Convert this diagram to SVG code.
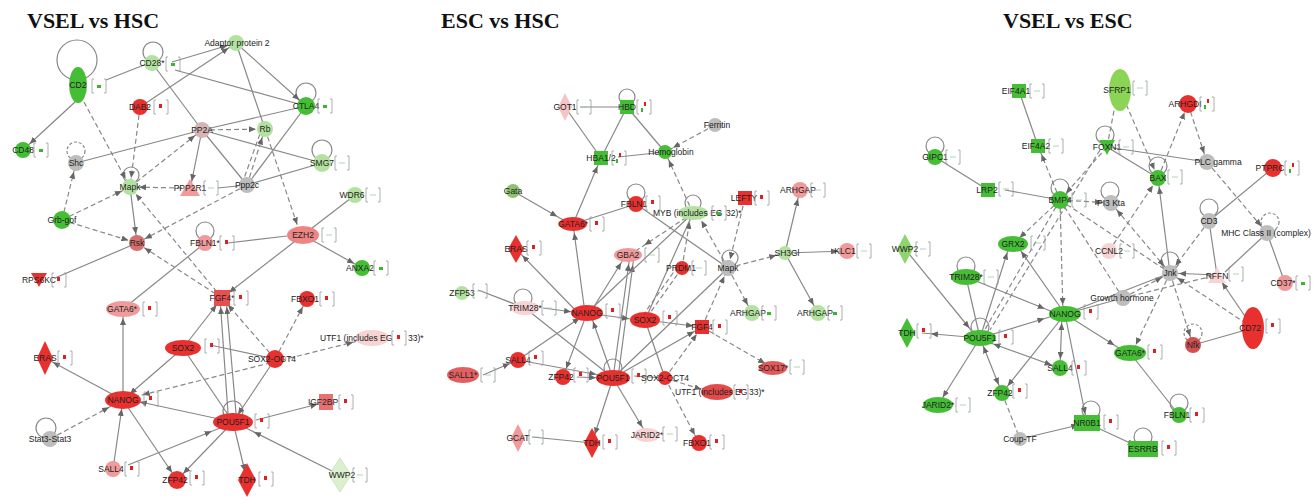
<svg xmlns="http://www.w3.org/2000/svg" xmlns:xlink="http://www.w3.org/1999/xlink" width="1315" height="500" viewBox="0 0 1315 500">
<style>
.t{font-family:"Liberation Serif","Times New Roman",serif;font-weight:bold;font-size:22px;fill:#111}
text.l{font-family:"Liberation Sans",Arial,sans-serif;font-size:8.5px;fill:#222;text-anchor:middle}
text.ls{font-family:"Liberation Sans",Arial,sans-serif;font-size:8.5px;fill:#222}
.s{stroke:#888;stroke-width:1.2;fill:none}
.d{stroke:#888;stroke-width:1.2;fill:none;stroke-dasharray:5 3}
.a{marker-end:url(#ah)}
.b{marker-start:url(#ah)}
.lp{fill:none;stroke:#888;stroke-width:1.2}
.ld{fill:none;stroke:#888;stroke-width:1.2;stroke-dasharray:3 2}
.R{fill:#e8302f}
.P{fill:#f09a9a}
.LP{fill:#f8d3d3}
.G{fill:#45be35}
.LG{fill:#b3e2a0}
.GR{fill:#bdbdbd}
.bk{fill:none;stroke:#999;stroke-width:.8}
</style>
<defs>
<marker id="ah" markerUnits="userSpaceOnUse" viewBox="0 0 7 6" markerWidth="7" markerHeight="6" refX="16" refY="3" orient="auto-start-reverse"><path d="M0,0L7,3L0,6z" fill="#666"/></marker>
<g id="bR"><path class="bk" d="M2,-7H0V7H2M12,-7H14V7H12"/><rect x="5" y="-3" width="3" height="4" fill="#e02020"/></g>
<g id="bG"><path class="bk" d="M2,-7H0V7H2M12,-7H14V7H12"/><rect x="5" y="-1" width="4" height="3" fill="#3bb52b"/></g>
<g id="bN"><path class="bk" d="M2,-7H0V7H2M12,-7H14V7H12"/><path d="M4,0H10" stroke="#9c9" stroke-width=".8"/></g>
<g id="bRG"><path class="bk" d="M2,-7H0V7H2M12,-7H14V7H12"/><rect x="7" y="-5" width="2" height="4" fill="#e02020"/><rect x="4" y="1" width="2" height="4" fill="#3bb52b"/></g>
</defs>

<text class="t" x="27" y="28">VSEL vs HSC</text>
<text class="t" x="441" y="28">ESC vs HSC</text>
<text class="t" x="1003" y="28">VSEL vs ESC</text>

<g id="connectors">
<!-- panel 1 -->
<circle class="lp" cx="77" cy="60" r="20"/>
<circle class="lp" cx="153" cy="52" r="10"/>
<circle class="ld" cx="76" cy="151" r="9"/>
<circle class="lp" cx="131" cy="175" r="8"/>
<circle class="lp" cx="205" cy="231" r="9"/>
<circle class="lp" cx="306" cy="93" r="10"/>
<circle class="lp" cx="322" cy="150" r="10"/>
<circle class="lp" cx="233" cy="411" r="10"/>
<circle class="lp" cx="46" cy="428" r="10"/>
<path class="s a" d="M75,102L23,150"/>
<path class="s" d="M106,80L144,65"/>
<path class="d a" d="M84,102L130,187"/>
<path class="s a" d="M172,62L236,43"/>
<path class="s a" d="M140,107L236,43"/>
<path class="s" d="M175,70L306,106"/>
<path class="s a" d="M236,43L306,106"/>
<path class="s" d="M152,63L202,130"/>
<path class="s" d="M236,43L265,129"/>
<path class="s" d="M202,130L306,106"/>
<path class="d a" d="M202,130L265,129"/>
<path class="s" d="M202,130L322,163"/>
<path class="s" d="M202,130L247,185"/>
<path class="s a" d="M202,130L190,190"/>
<path class="s" d="M76,163L202,130"/>
<path class="d a" d="M130,187L202,130"/>
<path class="d a" d="M140,107L130,187"/>
<path class="d a" d="M62,220L76,163"/>
<path class="d a" d="M62,220L130,187"/>
<path class="d a" d="M62,220L137,243"/>
<path class="s a" d="M130,187L137,243"/>
<path class="d a" d="M182,188L130,187"/>
<path class="s" d="M218,188L247,185"/>
<path class="d a" d="M247,185L265,129"/>
<path class="d" d="M242,184L261,131"/>
<path class="s" d="M247,185L306,106"/>
<path class="s" d="M247,185L322,163"/>
<path class="d a" d="M247,185L137,243"/>
<path class="d a" d="M222,298L130,187"/>
<path class="d a" d="M265,129L300,233"/>
<path class="s" d="M355,195L303,235"/>
<path class="s" d="M228,243L287,236"/>
<path class="s a" d="M303,235L222,298"/>
<path class="s a" d="M303,235L362,268"/>
<path class="s" d="M205,243L123,309"/>
<path class="d a" d="M222,298L137,243"/>
<path class="s" d="M55,278L137,243"/>
<path class="s a" d="M123,400L123,309"/>
<path class="s a" d="M123,400L45,358"/>
<path class="s a" d="M183,348L123,400"/>
<path class="s a" d="M183,348L222,298"/>
<path class="s a" d="M123,400L177,480"/>
<path class="s a" d="M113,469L123,400"/>
<path class="d a" d="M50,439L117,403"/>
<path class="s a" d="M128,465L220,428"/>
<path class="s a" d="M233,422L177,480"/>
<path class="s a" d="M233,422L247,480"/>
<path class="s a" d="M340,475L246,428"/>
<path class="s a" d="M256,420L326,402"/>
<path class="s a" d="M228,413L220,298"/>
<path class="s a" d="M236,413L226,298"/>
<path class="d a" d="M275,359L222,298"/>
<path class="d a" d="M275,359L307,299"/>
<path class="d a b" d="M134,397L362,340"/>
<path class="s a" d="M275,359L233,422"/>
<path class="s" d="M183,348L233,422"/>
<path class="s" d="M210,345L275,359"/>
<path class="s b" d="M131,400L233,422"/>

<!-- panel 2 -->
<circle class="lp" cx="627" cy="97" r="8"/>
<circle class="lp" cx="636" cy="193" r="9"/>
<circle class="lp" cx="693" cy="203" r="8"/>
<circle class="lp" cx="730" cy="258" r="8"/>
<circle class="lp" cx="523" cy="298" r="9"/>
<circle class="lp" cx="613" cy="368" r="9"/>
<path class="s" d="M580,107L627,107"/>
<path class="s" d="M565,107L601,158"/>
<path class="s" d="M627,107L601,158"/>
<path class="s" d="M627,107L665,152"/>
<path class="s" d="M618,157L665,152"/>
<path class="d a" d="M715,125L665,152"/>
<path class="d a" d="M693,213L665,152"/>
<path class="s a" d="M513,191L565,221"/>
<path class="s a" d="M573,224L601,158"/>
<path class="s" d="M636,204L573,224"/>
<path class="s a" d="M585,313L573,224"/>
<path class="s a" d="M580,315L516,249"/>
<path class="s a" d="M590,313L626,255"/>
<path class="s a" d="M613,378L630,255"/>
<path class="s a" d="M618,378L634,256"/>
<path class="d a" d="M693,213L637,250"/>
<path class="s" d="M693,213L645,320"/>
<path class="s" d="M693,213L587,313"/>
<path class="s" d="M636,204L728,268"/>
<path class="d a" d="M682,268L691,213"/>
<path class="d a" d="M728,268L697,213"/>
<path class="d a" d="M745,198L728,268"/>
<path class="d a" d="M728,268L785,253"/>
<path class="s a" d="M785,253L800,190"/>
<path class="s a" d="M785,253L847,251"/>
<path class="s a" d="M785,253L818,313"/>
<path class="d a" d="M728,268L752,313"/>
<path class="d a" d="M702,327L728,268"/>
<path class="d" d="M682,268L645,320"/>
<path class="d" d="M678,266L641,318"/>
<path class="d a" d="M702,327L773,368"/>
<path class="s a" d="M645,320L702,327"/>
<path class="d a" d="M665,378L702,327"/>
<path class="s a" d="M613,378L702,327"/>
<path class="d a" d="M665,378L710,392"/>
<path class="d a" d="M665,378L699,443"/>
<path class="s" d="M634,376L665,378"/>
<path class="s" d="M478,290L525,308"/>
<path class="s a" d="M543,308L580,313"/>
<path class="s" d="M525,308L613,378"/>
<path class="s a" d="M587,313L638,320"/>
<path class="s a" d="M518,360L587,313"/>
<path class="s a" d="M483,375L518,360"/>
<path class="s a" d="M518,360L605,376"/>
<path class="s a" d="M587,313L563,377"/>
<path class="s a" d="M577,377L605,378"/>
<path class="s a" d="M613,378L590,313"/>
<path class="s a" d="M613,378L592,443"/>
<path class="s a" d="M613,378L647,435"/>
<path class="s" d="M532,437L592,443"/>
<path class="s" d="M728,268L613,378"/>
<path class="s" d="M665,378L645,320"/>

<!-- panel 3 -->
<circle class="lp" cx="935" cy="146" r="9"/>
<circle class="lp" cx="1060" cy="188" r="9"/>
<circle class="lp" cx="1105" cy="135" r="9"/>
<circle class="lp" cx="1158" cy="166" r="9"/>
<circle class="lp" cx="1110" cy="191" r="9"/>
<circle class="lp" cx="1209" cy="208" r="9"/>
<circle class="ld" cx="1270" cy="222" r="9"/>
<circle class="lp" cx="1170" cy="261" r="9"/>
<circle class="ld" cx="1193" cy="333" r="9"/>
<circle class="lp" cx="1179" cy="403" r="9"/>
<circle class="lp" cx="1091" cy="410" r="9"/>
<circle class="lp" cx="1143" cy="437" r="9"/>
<circle class="lp" cx="966" cy="266" r="9"/>
<circle class="lp" cx="980" cy="327" r="9"/>
<path class="s" d="M1019,91L1038,146"/>
<path class="d a" d="M1060,200L1038,146"/>
<path class="s" d="M935,157L988,190"/>
<path class="s" d="M1005,190L1060,200"/>
<path class="d a" d="M1107,147L1060,200"/>
<path class="d a" d="M1060,200L1111,203"/>
<path class="d a" d="M1060,200L1013,244"/>
<path class="d a" d="M1060,200L1063,314"/>
<path class="d" d="M1060,200L980,338"/>
<path class="d" d="M1060,200L1170,273"/>
<path class="d" d="M1060,200L1123,298"/>
<path class="d a" d="M1107,147L1118,90"/>
<path class="d a" d="M1120,90L1158,178"/>
<path class="s" d="M1107,147L1207,162"/>
<path class="s" d="M1107,147L1158,178"/>
<path class="d" d="M1100,150L990,330"/>
<path class="d a" d="M1158,178L1188,104"/>
<path class="d a" d="M1188,104L1207,162"/>
<path class="d a" d="M1207,162L1267,233"/>
<path class="s" d="M1273,168L1209,221"/>
<path class="d a" d="M1209,221L1170,273"/>
<path class="s" d="M1209,221L1217,275"/>
<path class="s" d="M1267,233L1225,272"/>
<path class="s" d="M1267,233L1285,283"/>
<path class="s a" d="M1170,273L1158,178"/>
<path class="d a" d="M1109,251L1158,178"/>
<path class="d a b" d="M1111,203L1170,273"/>
<path class="d a" d="M1170,273L1132,353"/>
<path class="d a" d="M1170,273L1193,345"/>
<path class="s a" d="M1217,275L1170,273"/>
<path class="d a" d="M1253,328L1170,273"/>
<path class="s a" d="M1253,328L1217,275"/>
<path class="s" d="M1253,328L1193,345"/>
<path class="d a" d="M1123,298L1170,273"/>
<path class="d" d="M1123,298L1217,275"/>
<path class="s" d="M1130,353L1179,415"/>
<path class="s a" d="M1087,423L1143,449"/>
<path class="s a" d="M1020,439L1087,423"/>
<path class="d" d="M1002,393L1020,439"/>
<path class="s a" d="M1065,314L1087,423"/>
<path class="s a" d="M1065,314L1122,350"/>
<path class="s a" d="M966,277L1053,312"/>
<path class="s" d="M966,277L980,338"/>
<path class="s a" d="M905,249L975,335"/>
<path class="s a" d="M980,338L922,333"/>
<path class="s a" d="M980,338L1053,316"/>
<path class="s a" d="M980,338L938,405"/>
<path class="s a b" d="M980,338L1002,393"/>
<path class="s a b" d="M985,341L1060,368"/>
<path class="s a" d="M1065,314L1002,393"/>
<path class="s a b" d="M1062,314L1060,368"/>
<path class="s a" d="M980,338L1010,244"/>
<path class="s a" d="M1065,314L1016,244"/>
<path class="s" d="M1065,314L1123,298"/>
<path class="s" d="M1065,314L1170,273"/>
</g>

<!-- ===== panel 1 nodes ===== -->
<g id="p1-cd2"><ellipse class="G" cx="78" cy="85" rx="9" ry="18"/><text class="l" x="78" y="88">CD2</text><use href="#bG" x="92" y="86"/></g>
<g id="p1-cd28"><circle class="LG" cx="152" cy="63" r="8"/><text class="l" x="152" y="66">CD28*</text><use href="#bG" x="166" y="64"/></g>
<g id="p1-ap2"><circle class="LG" cx="236" cy="43" r="8"/><text class="l" x="237" y="46">Adaptor protein 2</text></g>
<g id="p1-dab2"><circle class="R" cx="140" cy="107" r="8"/><text class="l" x="140" y="110">DAB2</text><use href="#bR" x="154" y="107"/></g>
<g id="p1-pp2a"><circle fill="#d7b4b4" cx="202" cy="130" r="8"/><text class="l" x="202" y="133">PP2A</text></g>
<g id="p1-cd48"><circle class="G" cx="23" cy="150" r="8"/><text class="l" x="23" y="153">CD48</text><use href="#bG" x="34" y="150"/></g>
<g id="p1-shc"><circle class="GR" cx="76" cy="163" r="8"/><text class="l" x="76" y="166">Shc</text></g>
<g id="p1-mapk"><circle class="LG" cx="130" cy="187" r="8"/><text class="l" x="130" y="190">Mapk</text></g>
<g id="p1-ppp2r1"><path class="P" d="M190,179L200,196H180z"/><text class="l" x="190" y="191">PPP2R1</text><use href="#bN" x="204" y="188"/></g>
<g id="p1-grb"><circle class="G" cx="62" cy="220" r="9"/><text class="l" x="62" y="223">Grb-gof</text></g>
<g id="p1-rsk"><circle fill="#d47070" cx="137" cy="243" r="8"/><text class="l" x="137" y="246">Rsk</text></g>
<g id="p1-fbln1"><circle class="P" cx="205" cy="243" r="8"/><text class="l" x="205" y="246">FBLN1*</text><use href="#bR" x="220" y="243"/></g>
<g id="p1-rb"><circle class="LG" cx="265" cy="129" r="8"/><text class="l" x="265" y="132">Rb</text></g>
<g id="p1-ctla4"><circle class="G" cx="306" cy="106" r="9"/><text class="l" x="306" y="109">CTLA4</text><use href="#bG" x="318" y="106"/></g>
<g id="p1-smg7"><circle class="LG" cx="322" cy="163" r="9"/><text class="l" x="322" y="166">SMG7</text><use href="#bN" x="335" y="163"/></g>
<g id="p1-ppp2c"><circle class="GR" cx="247" cy="185" r="8"/><text class="l" x="247" y="188">Ppp2c</text></g>
<g id="p1-wdr6"><circle class="LG" cx="355" cy="195" r="8"/><text class="l" x="352" y="198">WDR6</text><use href="#bN" x="366" y="195"/></g>
<g id="p1-ezh2"><ellipse fill="#ee8585" cx="303" cy="235" rx="16" ry="9"/><text class="l" x="303" y="238">EZH2</text><use href="#bN" x="322" y="235"/></g>
<g id="p1-anxa2"><circle class="G" cx="362" cy="268" r="8"/><text class="l" x="360" y="271">ANXA2</text><use href="#bG" x="374" y="268"/></g>
<g id="p1-rps6k"><path class="R" d="M31,273H47L39,287z"/><text class="l" x="39" y="283">RPS6KC</text><use href="#bR" x="52" y="280"/></g>
<g id="p1-gata6"><ellipse class="P" cx="123" cy="309" rx="17" ry="8"/><text class="l" x="122" y="312">GATA6*</text><use href="#bR" x="143" y="309"/></g>
<g id="p1-fgf4"><rect fill="#e85050" x="214" y="290" width="16" height="16"/><text class="l" x="222" y="301">FGF4*</text><use href="#bR" x="234" y="298"/></g>
<g id="p1-fbxo1"><circle class="R" cx="307" cy="299" r="8"/><text class="l" x="305" y="302">FBXO1</text><use href="#bR" x="320" y="299"/></g>
<g id="p1-sox2"><ellipse class="R" cx="183" cy="348" rx="18" ry="8"/><text class="l" x="183" y="351">SOX2</text><use href="#bR" x="205" y="346"/></g>
<g id="p1-eras"><path class="R" d="M45,341L53,358L45,375L37,358z"/><text class="l" x="45" y="361">ERAS</text><use href="#bR" x="58" y="358"/></g>
<g id="p1-so"><circle class="R" cx="275" cy="359" r="9"/><text class="l" x="272" y="362">SOX2-OCT4</text></g>
<g id="p1-utf1"><ellipse class="LP" cx="372" cy="338" rx="17" ry="8"/><text class="ls" x="320" y="341">UTF1 (includes EG</text><use href="#bR" x="392" y="338"/><text class="ls" x="408" y="341">33)*</text></g>
<g id="p1-nanog"><ellipse class="R" cx="123" cy="400" rx="18" ry="9"/><text class="l" x="123" y="403">NANOG</text><use href="#bR" x="144" y="399"/></g>
<g id="p1-pou5f1"><ellipse class="R" cx="233" cy="422" rx="20" ry="9"/><text class="l" x="233" y="425">POU5F1</text><use href="#bR" x="255" y="421"/></g>
<g id="p1-igf2bp"><rect fill="#e87070" x="319" y="394" width="14" height="16"/><text class="l" x="323" y="405">IGF2BP</text><use href="#bR" x="339" y="402"/></g>
<g id="p1-stat3"><circle class="GR" cx="50" cy="439" r="8"/><text class="l" x="50" y="442">Stat3-Stat3</text></g>
<g id="p1-sall4"><circle class="P" cx="113" cy="469" r="8"/><text class="l" x="111" y="472">SALL4</text><use href="#bR" x="125" y="469"/></g>
<g id="p1-zfp42"><circle class="R" cx="177" cy="480" r="9"/><text class="l" x="175" y="483">ZFP42</text><use href="#bR" x="190" y="478"/></g>
<g id="p1-tdh"><path class="R" d="M247,463L256,480L247,497L238,480z"/><text class="l" x="247" y="483">TDH</text><use href="#bR" x="259" y="479"/></g>
<g id="p1-wwp2"><path fill="#dcf0d0" stroke="#b5d8a5" stroke-width=".6" d="M340,458L351,475L340,492L329,475z"/><text class="l" x="342" y="478">WWP2</text><use href="#bN" x="353" y="475"/></g>

<!-- ===== panel 2 nodes ===== -->
<g id="p2-got1"><path fill="#f5c5c5" d="M565,93L572,107L565,121L558,107z"/><text class="l" x="565" y="110">GOT1</text><use href="#bN" x="577" y="107"/></g>
<g id="p2-hbd"><rect class="G" x="620" y="100" width="14" height="14"/><text class="l" x="627" y="110">HBD</text><use href="#bRG" x="637" y="107"/></g>
<g id="p2-hba"><rect class="G" x="594" y="151" width="14" height="14"/><text class="l" x="601" y="161">HBA1/2</text><use href="#bRG" x="612" y="158"/></g>
<g id="p2-hemo"><circle class="G" cx="665" cy="152" r="7"/><text class="l" x="671" y="155">Hemoglobin</text></g>
<g id="p2-ferr"><circle class="GR" cx="715" cy="125" r="7"/><text class="l" x="717" y="128">Ferritin</text></g>
<g id="p2-gata"><circle fill="#8fc270" cx="513" cy="191" r="7"/><text class="l" x="513" y="194">Gata</text></g>
<g id="p2-fbln1"><circle class="R" cx="636" cy="204" r="8"/><text class="l" x="634" y="207">FBLN1</text><use href="#bR" x="646" y="203"/></g>
<g id="p2-gata6"><ellipse class="R" cx="573" cy="224" rx="14" ry="7"/><text class="l" x="573" y="227">GATA6*</text><use href="#bR" x="590" y="224"/></g>
<g id="p2-eras"><path class="R" d="M516,235L524,249L516,263L508,249z"/><text class="l" x="516" y="252">ERAS</text><use href="#bR" x="527" y="248"/></g>
<g id="p2-gba2"><ellipse class="P" cx="628" cy="255" rx="14" ry="7"/><text class="l" x="628" y="258">GBA2</text><use href="#bN" x="645" y="255"/></g>
<g id="p2-myb"><ellipse class="LG" cx="693" cy="213" rx="15" ry="7"/><text class="ls" x="653" y="216">MYB (includes EG</text><use href="#bG" x="712" y="213"/><text class="ls" x="726" y="216">32)*</text></g>
<g id="p2-lefty"><rect class="R" x="738" y="191" width="14" height="14"/><text class="l" x="744" y="201">LEFTY</text><use href="#bR" x="755" y="198"/></g>
<g id="p2-arhgap1"><circle class="P" cx="800" cy="190" r="8"/><text class="l" x="798" y="193">ARHGAP</text><use href="#bN" x="811" y="190"/></g>
<g id="p2-prdm"><circle class="R" cx="682" cy="268" r="7"/><text class="l" x="681" y="271">PRDM1</text><use href="#bN" x="692" y="268"/></g>
<g id="p2-mapk"><circle class="GR" cx="728" cy="268" r="8"/><text class="l" x="728" y="271">Mapk</text></g>
<g id="p2-sh3"><circle class="LG" cx="785" cy="253" r="7"/><text class="l" x="787" y="256">SH3Gl</text></g>
<g id="p2-klc1"><circle class="P" cx="847" cy="251" r="8"/><text class="l" x="845" y="254">KLC1</text><use href="#bN" x="857" y="251"/></g>
<g id="p2-arhgap2"><circle class="LG" cx="752" cy="313" r="8"/><text class="l" x="748" y="316">ARHGAP</text><use href="#bG" x="762" y="313"/></g>
<g id="p2-arhgap3"><circle class="LG" cx="818" cy="313" r="8"/><text class="l" x="815" y="316">ARHGAP</text><use href="#bG" x="828" y="313"/></g>
<g id="p2-zfp53"><circle class="LG" cx="462" cy="293" r="7"/><text class="l" x="462" y="296">ZFP53</text><use href="#bN" x="473" y="291"/></g>
<g id="p2-trim28"><ellipse class="LP" cx="525" cy="308" rx="14" ry="7"/><text class="l" x="525" y="311">TRIM28*</text><use href="#bN" x="542" y="308"/></g>
<g id="p2-nanog"><ellipse class="R" cx="587" cy="313" rx="16" ry="8"/><text class="l" x="587" y="316">NANOG</text><use href="#bR" x="606" y="311"/></g>
<g id="p2-sox2"><ellipse class="R" cx="645" cy="320" rx="15" ry="8"/><text class="l" x="645" y="323">SOX2</text><use href="#bR" x="663" y="318"/></g>
<g id="p2-fgf4"><rect class="R" x="695" y="320" width="14" height="14"/><text class="l" x="702" y="330">FGF4</text><use href="#bR" x="713" y="327"/></g>
<g id="p2-sall4"><circle class="R" cx="518" cy="360" r="8"/><text class="l" x="518" y="363">SALL4</text><use href="#bR" x="529" y="358"/></g>
<g id="p2-sall1"><ellipse fill="#e46060" cx="463" cy="375" rx="16" ry="8"/><text class="l" x="463" y="378">SALL1*</text><use href="#bN" x="481" y="375"/></g>
<g id="p2-zfp42"><circle class="R" cx="563" cy="377" r="8"/><text class="l" x="561" y="380">ZFP42</text><use href="#bR" x="574" y="375"/></g>
<g id="p2-pou5f1"><ellipse class="R" cx="613" cy="378" rx="17" ry="8"/><text class="l" x="613" y="381">POU5F1</text><use href="#bR" x="632" y="376"/></g>
<g id="p2-so"><circle class="R" cx="665" cy="378" r="7"/><text class="l" x="665" y="381">SOX2-OCT4</text></g>
<g id="p2-utf1"><ellipse fill="#e44a4a" cx="717" cy="392" rx="16" ry="8"/><text class="ls" x="675" y="395">UTF1 (includes EG</text><use href="#bR" x="734" y="392"/><text class="ls" x="749" y="395">33)*</text></g>
<g id="p2-sox17"><ellipse fill="#e45858" cx="773" cy="368" rx="14" ry="7"/><text class="l" x="773" y="371">SOX17*</text><use href="#bN" x="790" y="367"/></g>
<g id="p2-gcat"><path class="P" d="M518,424L525,438L518,452L511,438z"/><text class="l" x="518" y="441">GCAT</text><use href="#bN" x="529" y="437"/></g>
<g id="p2-tdh"><path class="R" d="M592,428L600,443L592,458L584,443z"/><text class="l" x="592" y="446">TDH</text><use href="#bR" x="603" y="442"/></g>
<g id="p2-jarid2"><ellipse class="LP" cx="647" cy="435" rx="13" ry="7"/><text class="l" x="647" y="438">JARID2*</text><use href="#bN" x="663" y="434"/></g>
<g id="p2-fbxo1"><circle class="R" cx="699" cy="443" r="8"/><text class="l" x="697" y="446">FBXO1</text><use href="#bR" x="710" y="442"/></g>

<!-- ===== panel 3 nodes ===== -->
<g id="p3-eif4a1"><rect class="G" x="1012" y="84" width="14" height="14"/><text class="l" x="1016" y="94">EIF4A1</text><use href="#bN" x="1030" y="91"/></g>
<g id="p3-eif4a2"><rect class="G" x="1031" y="139" width="14" height="14"/><text class="l" x="1036" y="149">EIF4A2</text><use href="#bN" x="1049" y="146"/></g>
<g id="p3-gipc1"><circle class="G" cx="935" cy="157" r="8"/><text class="l" x="935" y="160">GIPC1</text><use href="#bN" x="946" y="157"/></g>
<g id="p3-lrp2"><rect class="G" x="981" y="183" width="14" height="14"/><text class="l" x="987" y="193">LRP2</text><use href="#bN" x="999" y="189"/></g>
<g id="p3-bmp4"><circle class="G" cx="1060" cy="200" r="9"/><text class="l" x="1060" y="203">BMP4</text><use href="#bN" x="1072" y="200"/></g>
<g id="p3-wwp2"><path fill="#8fd46f" d="M905,234L913,249L905,264L897,249z"/><text class="l" x="905" y="252">WWP2</text><use href="#bN" x="916" y="249"/></g>
<g id="p3-grx2"><ellipse class="G" cx="1013" cy="244" rx="15" ry="8"/><text class="l" x="1013" y="247">GRX2</text><use href="#bN" x="1031" y="243"/></g>
<g id="p3-sfrp1"><ellipse fill="#8cd455" cx="1120" cy="90" rx="11" ry="21"/><text class="l" x="1117" y="93">SFRP1</text><use href="#bN" x="1133" y="88"/></g>
<g id="p3-arhgdi"><circle class="R" cx="1188" cy="104" r="9"/><text class="l" x="1185" y="107">ARHGDI</text><use href="#bRG" x="1200" y="104"/></g>
<g id="p3-foxn1"><path class="G" d="M1099,140H1115L1107,155z"/><text class="l" x="1107" y="150">FOXN1</text><use href="#bN" x="1119" y="147"/></g>
<g id="p3-plcg"><circle class="GR" cx="1207" cy="162" r="8"/><text class="l" x="1218" y="165">PLC gamma</text></g>
<g id="p3-ptprc"><circle class="R" cx="1273" cy="168" r="9"/><text class="l" x="1270" y="171">PTPRC</text><use href="#bRG" x="1285" y="168"/></g>
<g id="p3-bax"><circle class="G" cx="1158" cy="178" r="8"/><text class="l" x="1158" y="181">BAX</text><use href="#bN" x="1168" y="177"/></g>
<g id="p3-pi3k"><circle class="GR" cx="1111" cy="203" r="8"/><text class="l" x="1111" y="206">PI3 Kta</text></g>
<g id="p3-cd3"><circle class="GR" cx="1209" cy="221" r="8"/><text class="l" x="1209" y="224">CD3</text></g>
<g id="p3-mhc"><circle class="GR" cx="1267" cy="233" r="8"/><text class="l" x="1266" y="236">MHC Class II (complex)</text></g>
<g id="p3-ccnl2"><circle class="LP" cx="1109" cy="251" r="8"/><text class="l" x="1109" y="254">CCNL2</text><use href="#bN" x="1120" y="251"/></g>
<g id="p3-jnk"><circle class="GR" cx="1170" cy="273" r="8"/><text class="l" x="1170" y="276">Jnk</text></g>
<g id="p3-gh"><circle class="GR" cx="1123" cy="298" r="8"/><text class="l" x="1122" y="301">Growth hormone</text></g>
<g id="p3-rffn"><path class="LP" d="M1208,283L1217,267L1226,283z"/><text class="l" x="1217" y="279">RFFN</text><use href="#bN" x="1229" y="274"/></g>
<g id="p3-cd37"><circle class="P" cx="1285" cy="283" r="8"/><text class="l" x="1283" y="286">CD37*</text><use href="#bG" x="1296" y="283"/></g>
<g id="p3-cd72"><ellipse class="R" cx="1253" cy="328" rx="11" ry="21"/><text class="l" x="1250" y="331">CD72</text><use href="#bR" x="1266" y="326"/></g>
<g id="p3-nfk"><circle fill="#d25050" cx="1193" cy="345" r="8"/><text class="l" x="1193" y="348">Nfk</text></g>
<g id="p3-gata6"><ellipse class="G" cx="1130" cy="353" rx="16" ry="8"/><text class="l" x="1130" y="356">GATA6*</text><use href="#bR" x="1148" y="352"/></g>
<g id="p3-fbln1"><circle class="G" cx="1179" cy="415" r="8"/><text class="l" x="1177" y="418">FBLN1</text><use href="#bR" x="1190" y="415"/></g>
<g id="p3-nr0b1"><rect class="G" x="1074" y="415" width="26" height="16"/><text class="l" x="1087" y="426">NR0B1</text><use href="#bR" x="1104" y="422"/></g>
<g id="p3-esrrb"><rect class="G" x="1128" y="441" width="30" height="16"/><text class="l" x="1143" y="452">ESRRB</text><use href="#bR" x="1162" y="448"/></g>
<g id="p3-trim28"><ellipse class="G" cx="966" cy="277" rx="15" ry="8"/><text class="l" x="966" y="280">TRIM28*</text><use href="#bN" x="984" y="277"/></g>
<g id="p3-nanog"><ellipse class="G" cx="1065" cy="314" rx="16" ry="8"/><text class="l" x="1065" y="317">NANOG</text><use href="#bR" x="1084" y="312"/></g>
<g id="p3-tdh"><path class="G" d="M907,318L915,333L907,348L899,333z"/><text class="l" x="907" y="336">TDH</text><use href="#bR" x="917" y="331"/></g>
<g id="p3-pou5f1"><ellipse class="G" cx="980" cy="338" rx="16" ry="8"/><text class="l" x="980" y="341">POU5F1</text><use href="#bR" x="999" y="337"/></g>
<g id="p3-sall4"><circle class="G" cx="1060" cy="368" r="8"/><text class="l" x="1060" y="371">SALL4</text><use href="#bR" x="1072" y="368"/></g>
<g id="p3-zfp42"><circle class="G" cx="1002" cy="393" r="8"/><text class="l" x="1000" y="396">ZFP42</text><use href="#bR" x="1013" y="391"/></g>
<g id="p3-jarid2"><ellipse class="G" cx="938" cy="405" rx="15" ry="8"/><text class="l" x="938" y="408">JARID2*</text><use href="#bN" x="956" y="405"/></g>
<g id="p3-couptf"><circle class="GR" cx="1020" cy="439" r="7"/><text class="l" x="1020" y="442">Coup-TF</text></g>
</svg>
